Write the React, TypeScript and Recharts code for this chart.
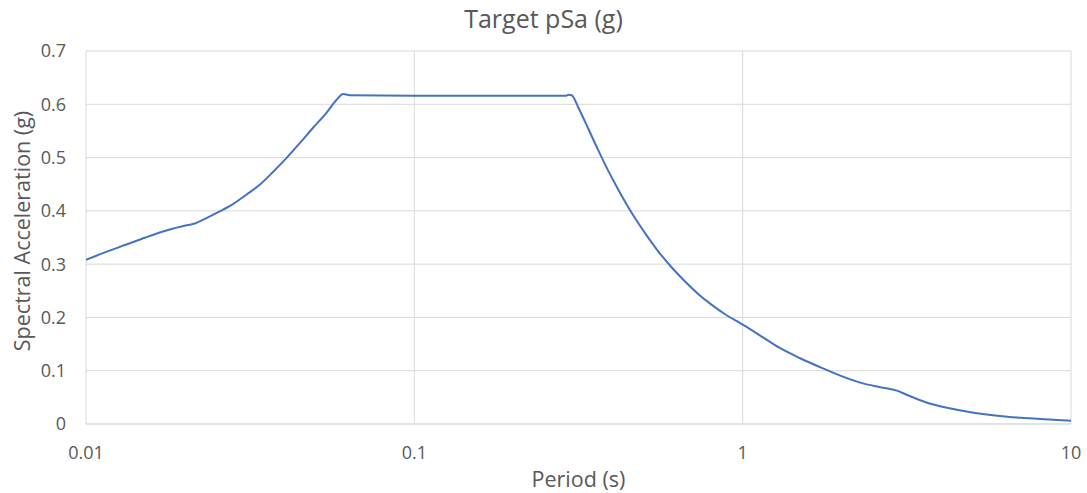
import React from 'react';
import { LineChart, Line, XAxis, YAxis, CartesianGrid } from 'recharts';

const periods = [
  0.01, 0.01147, 0.0132, 0.01518, 0.01747, 0.0201, 0.02116, 0.02326, 0.02553, 0.02803, 0.03078, 0.03381,
  0.03711, 0.04077, 0.04477, 0.04915, 0.05399, 0.05791, 0.06066, 0.06359, 0.1, 0.2, 0.29, 0.2944, 0.3015,
  0.3158, 0.3388, 0.3634, 0.3898, 0.4181, 0.4595, 0.5043, 0.5538, 0.6083, 0.6678, 0.7332, 0.8054, 0.8842,
  0.9827, 1.0416, 1.131, 1.301, 1.497, 1.723, 1.983, 2.281, 2.625, 2.952, 3.168, 3.645, 4.194, 5.054, 6.391,
  8.072, 10,
];
const spectralAcc = [
  0.308, 0.3226, 0.3363, 0.35, 0.3626, 0.3726, 0.3752, 0.3865, 0.399, 0.4128, 0.4303, 0.449,
  0.473, 0.499, 0.527, 0.556, 0.584, 0.608, 0.6195, 0.617, 0.616, 0.616, 0.616, 0.618, 0.617,
  0.594, 0.554, 0.5135, 0.475, 0.4397, 0.396, 0.3583, 0.3237, 0.2937, 0.2674, 0.2437, 0.2236, 0.206,
  0.1892, 0.18, 0.166, 0.1422, 0.1234, 0.1065, 0.0908, 0.0776, 0.069, 0.0626, 0.0545, 0.04, 0.0306, 0.0212, 0.0137,
  0.0094, 0.0062,
];
const xTicks = [0.01, 0.1, 1, 10];
const yTicks = [0, 0.1, 0.2, 0.3, 0.4, 0.5, 0.6, 0.7];

const data = periods.map((t, i) => ({ t, sa: spectralAcc[i] }));

const FONT = '"Open Sans", "Noto Sans", sans-serif';
const TEXT = '#595959';
const GRID = '#d9d9d9';

export default function App() {
  return (
    <div style={{ position: 'absolute', left: 0, top: 0, width: 1087, height: 493, background: '#fff', fontFamily: FONT }}>
      <LineChart width={1087} height={493} data={data} margin={{ top: 51, right: 16, bottom: 39, left: 0 }}>
        <CartesianGrid stroke={GRID} strokeWidth={1} />
        <XAxis
          dataKey="t"
          type="number"
          scale="log"
          domain={[0.01, 10]}
          ticks={xTicks}
          allowDataOverflow
          height={30}
          axisLine={{ stroke: GRID }}
          tickLine={false}
          tickSize={0}
          tickMargin={22}
          tick={{ fill: TEXT, fontSize: 18, fontFamily: FONT }}
          tickFormatter={(v: number) => String(v)}
        />
        <YAxis
          type="number"
          domain={[0, 0.7]}
          ticks={yTicks}
          width={86}
          axisLine={false}
          tickLine={false}
          tickSize={0}
          tickMargin={20}
          tick={{ fill: TEXT, fontSize: 18, fontFamily: FONT }}
          tickFormatter={(v: number) => (v === 0 ? '0' : v.toFixed(1))}
        />
        <Line type="monotone" dataKey="sa" stroke="#4472C4" strokeWidth={2} dot={false} isAnimationActive={false} />
      </LineChart>
      <div style={{ position: 'absolute', left: 0, top: 3, width: 1087, textAlign: 'center', fontSize: 25, lineHeight: '30px', color: TEXT }}>
        Target pSa (g)
      </div>
      <div style={{ position: 'absolute', left: 478.5, top: 464, width: 200, textAlign: 'center', fontSize: 21.5, lineHeight: '30px', color: TEXT }}>
        Period (s)
      </div>
      <div style={{ position: 'absolute', left: 22, top: 231, transform: 'translate(-50%, -50%) rotate(-90deg)', whiteSpace: 'nowrap', fontSize: 21.5, lineHeight: '30px', color: TEXT }}>
        Spectral Acceleration (g)
      </div>
    </div>
  );
}
